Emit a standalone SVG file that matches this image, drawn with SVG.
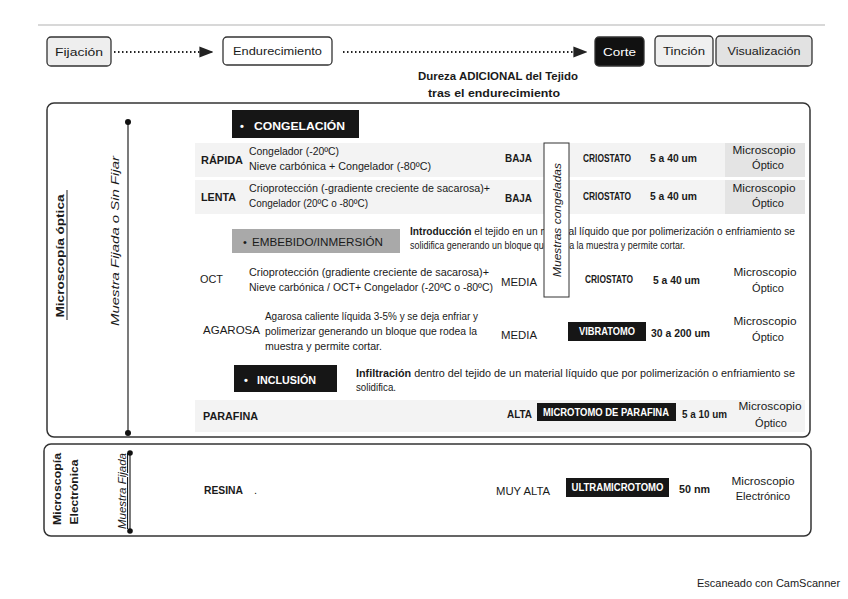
<svg xmlns="http://www.w3.org/2000/svg" width="848" height="599" viewBox="0 0 848 599">
<defs>
<style>
.t{font-family:"Liberation Sans",Arial,sans-serif;font-size:11px;fill:#1a1a1a}
.b{font-weight:bold}
.s{font-size:10px}
.i{font-style:italic}
.c{text-anchor:middle}
.w{fill:#ffffff}
.step{stroke:#333;stroke-width:1.3}
.frame{fill:#ffffff;stroke:#333;stroke-width:1.5}
.blk{fill:#161616}
.band{fill:#f3f3f3}
.band2{fill:#e4e4e4}
.dot{fill:none;stroke:#222;stroke-width:2;stroke-dasharray:1.5 2.5}
</style>
<marker id="ah" viewBox="0 0 10 10" refX="9" refY="5" markerWidth="7" markerHeight="7" orient="auto">
<path d="M0,1 L10,5 L0,9 Z" fill="#222"/>
</marker>
</defs>
<rect width="848" height="599" fill="#ffffff"/>
<line x1="38" y1="25" x2="825" y2="25" stroke="#d8d8d8" stroke-width="2"/>

<!-- process steps -->
<g id="fijacion"><rect x="47" y="37" width="64" height="29" rx="4" fill="#eeeeee" class="step"/><text x="79" y="56" class="t c" font-size="13" textLength="48" lengthAdjust="spacingAndGlyphs">Fijación</text></g>
<g id="endurecimiento"><rect x="223" y="37" width="109" height="28" rx="4" fill="#ffffff" class="step"/><text x="277.5" y="55" class="t c" font-size="13" textLength="89" lengthAdjust="spacingAndGlyphs">Endurecimiento</text></g>
<g id="corte"><rect x="595" y="37" width="49" height="29" rx="4" fill="#111" class="step"/><text x="619.5" y="56" class="t c w" font-size="13" textLength="33" lengthAdjust="spacingAndGlyphs">Corte</text></g>
<g id="tincion"><rect x="655" y="36" width="58" height="30" rx="4" fill="#f0f0f0" class="step"/><text x="684" y="55" class="t c" font-size="13" textLength="42" lengthAdjust="spacingAndGlyphs">Tinción</text></g>
<g id="visualizacion"><rect x="716" y="36" width="96" height="30" rx="4" fill="#e2e2e2" class="step"/><text x="764" y="55" class="t c" font-size="13" textLength="73" lengthAdjust="spacingAndGlyphs">Visualización</text></g>
<g id="connectors">
<line x1="114" y1="52" x2="212" y2="52" class="dot" marker-end="url(#ah)"/>
<line x1="343" y1="52" x2="586" y2="52" class="dot" marker-end="url(#ah)"/>
</g>
<g id="dureza">
<text x="498" y="80" class="t c b" font-size="13" textLength="160" lengthAdjust="spacingAndGlyphs">Dureza ADICIONAL del Tejido</text>
<text x="494" y="97" class="t c b" font-size="13" textLength="132" lengthAdjust="spacingAndGlyphs">tras el endurecimiento</text>
</g>

<!-- Microscopía óptica panel -->
<g id="optica">
<rect x="47" y="103" width="763" height="334" rx="7" class="frame"/>
<text transform="translate(64,256) rotate(-90)" class="t c b" font-size="15" textLength="123" lengthAdjust="spacingAndGlyphs">Microscopía óptica</text>
<line x1="67" y1="190" x2="67" y2="320" stroke="#222" stroke-width="1"/>
<text transform="translate(119,241) rotate(-90)" class="t c i" font-size="16" textLength="170" lengthAdjust="spacingAndGlyphs">Muestra Fijada o Sin Fijar</text>
<line x1="128" y1="122" x2="128" y2="433" stroke="#222" stroke-width="1.2"/>
<circle cx="128" cy="122" r="3" fill="#111"/><circle cx="128" cy="433" r="3" fill="#111"/>
</g>

<g id="congelacion">
<rect x="232" y="110" width="127" height="28" class="blk"/>
<text x="240" y="130" class="t b w" font-size="13">•</text>
<text x="254" y="130" class="t b w" font-size="13" textLength="91" lengthAdjust="spacingAndGlyphs">CONGELACIÓN</text>
</g>

<g id="rapida">
<rect x="195" y="143" width="610" height="34" class="band"/>
<rect x="725" y="143" width="80" height="34" class="band2"/>
<text x="201" y="164" class="t b" font-size="12" textLength="42" lengthAdjust="spacingAndGlyphs">RÁPIDA</text>
<text x="249" y="155" class="t" textLength="90" lengthAdjust="spacingAndGlyphs">Congelador (-20ºC)</text>
<text x="249" y="170" class="t" textLength="182" lengthAdjust="spacingAndGlyphs">Nieve carbónica + Congelador (-80ºC)</text>
<text x="505" y="162" class="t b" textLength="27" lengthAdjust="spacingAndGlyphs">BAJA</text>
<text x="583" y="162" class="t b s" textLength="48" lengthAdjust="spacingAndGlyphs">CRIOSTATO</text>
<text x="650" y="162" class="t b" textLength="47" lengthAdjust="spacingAndGlyphs">5 a 40 um</text>
<text x="764" y="154" class="t c" textLength="63" lengthAdjust="spacingAndGlyphs">Microscopio</text>
<text x="768" y="169" class="t c">Óptico</text>
</g>

<g id="lenta">
<rect x="195" y="180" width="610" height="34" class="band"/>
<rect x="725" y="180" width="80" height="34" class="band2"/>
<text x="201" y="201" class="t b" font-size="12" textLength="35" lengthAdjust="spacingAndGlyphs">LENTA</text>
<text x="249" y="192" class="t" textLength="241" lengthAdjust="spacingAndGlyphs">Crioprotección (-gradiente creciente de sacarosa)+</text>
<text x="249" y="207" class="t" textLength="119" lengthAdjust="spacingAndGlyphs">Congelador (20ºC o -80ºC)</text>
<text x="505" y="202" class="t b" textLength="27" lengthAdjust="spacingAndGlyphs">BAJA</text>
<text x="583" y="200" class="t b s" textLength="48" lengthAdjust="spacingAndGlyphs">CRIOSTATO</text>
<text x="650" y="200" class="t b" textLength="47" lengthAdjust="spacingAndGlyphs">5 a 40 um</text>
<text x="764" y="192" class="t c" textLength="63" lengthAdjust="spacingAndGlyphs">Microscopio</text>
<text x="768" y="207" class="t c">Óptico</text>
</g>

<g id="embebido">
<rect x="232" y="229" width="168" height="24" fill="#a9a9a9"/>
<text x="243" y="246" class="t" font-size="12" fill="#e6e6e6">•</text>
<text x="252" y="246" class="t" font-size="12" fill="#e6e6e6" textLength="131" lengthAdjust="spacingAndGlyphs">EMBEBIDO/INMERSIÓN</text>
<text x="410" y="235" class="t s" textLength="385" lengthAdjust="spacingAndGlyphs"><tspan class="b">Introducción</tspan> el tejido en un material líquido que por polimerización o enfriamiento se</text>
<text x="410" y="249" class="t s" textLength="275" lengthAdjust="spacingAndGlyphs">solidifica generando un bloque que rodea la muestra y permite cortar.</text>
</g>

<g id="oct">
<text x="200" y="283" class="t" font-size="12" textLength="23" lengthAdjust="spacingAndGlyphs">OCT</text>
<text x="249" y="276" class="t" textLength="240" lengthAdjust="spacingAndGlyphs">Crioprotección (gradiente creciente de sacarosa)+</text>
<text x="249" y="291" class="t" textLength="244" lengthAdjust="spacingAndGlyphs">Nieve carbónica / OCT+ Congelador (-20ºC o -80ºC)</text>
<text x="501" y="286" class="t" font-size="12" textLength="36" lengthAdjust="spacingAndGlyphs">MEDIA</text>
<text x="585" y="283" class="t b s" textLength="48" lengthAdjust="spacingAndGlyphs">CRIOSTATO</text>
<text x="653" y="284" class="t b" textLength="47" lengthAdjust="spacingAndGlyphs">5 a 40 um</text>
<text x="765" y="276" class="t c" textLength="63" lengthAdjust="spacingAndGlyphs">Microscopio</text>
<text x="768" y="292" class="t c">Óptico</text>
</g>

<g id="agarosa">
<text x="203" y="334" class="t" font-size="12" textLength="57" lengthAdjust="spacingAndGlyphs">AGAROSA</text>
<text x="265" y="320" class="t" textLength="213" lengthAdjust="spacingAndGlyphs">Agarosa caliente líquida 3-5% y se deja enfriar y</text>
<text x="265" y="335" class="t" textLength="212" lengthAdjust="spacingAndGlyphs">polimerizar generando un bloque que rodea la</text>
<text x="265" y="350" class="t" textLength="117" lengthAdjust="spacingAndGlyphs">muestra y permite cortar.</text>
<text x="501" y="339" class="t" font-size="12" textLength="36" lengthAdjust="spacingAndGlyphs">MEDIA</text>
<rect x="568" y="322" width="78" height="19" class="blk"/>
<text x="607" y="335" class="t b c w s" textLength="56" lengthAdjust="spacingAndGlyphs">VIBRATOMO</text>
<text x="651" y="337" class="t b" textLength="59" lengthAdjust="spacingAndGlyphs">30 a 200 um</text>
<text x="765" y="325" class="t c" textLength="63" lengthAdjust="spacingAndGlyphs">Microscopio</text>
<text x="768" y="341" class="t c">Óptico</text>
</g>

<g id="congeladas">
<rect x="544" y="143" width="25" height="154" fill="#ffffff" stroke="#333" stroke-width="1"/>
<text transform="translate(561,220) rotate(-90)" class="t c i" textLength="114" lengthAdjust="spacingAndGlyphs">Muestras congeladas</text>
</g>

<g id="inclusion">
<rect x="234" y="365" width="103" height="27" class="blk"/>
<text x="244" y="384" class="t b w" font-size="13">•</text>
<text x="257" y="384" class="t b w" font-size="13" textLength="59" lengthAdjust="spacingAndGlyphs">INCLUSIÓN</text>
<text x="356" y="377" class="t s" textLength="439" lengthAdjust="spacingAndGlyphs"><tspan class="b">Infiltración</tspan> dentro del tejido de un material líquido que por polimerización o enfriamiento se</text>
<text x="356" y="391" class="t s" textLength="40" lengthAdjust="spacingAndGlyphs">solidifica.</text>
</g>

<g id="parafina">
<rect x="195" y="400" width="610" height="32" class="band"/>
<text x="203" y="420" class="t b" textLength="55" lengthAdjust="spacingAndGlyphs">PARAFINA</text>
<text x="507" y="418" class="t b" textLength="25" lengthAdjust="spacingAndGlyphs">ALTA</text>
<rect x="537" y="403" width="139" height="18" class="blk"/>
<text x="606" y="416" class="t b c w" font-size="9" textLength="126" lengthAdjust="spacingAndGlyphs">MICROTOMO DE PARAFINA</text>
<text x="682" y="418" class="t b" font-size="10" textLength="45" lengthAdjust="spacingAndGlyphs">5 a 10 um</text>
<text x="770" y="410" class="t c" textLength="63" lengthAdjust="spacingAndGlyphs">Microscopio</text>
<text x="771" y="427" class="t c">Óptico</text>
</g>

<!-- Microscopía electrónica panel -->
<g id="electronica">
<rect x="44" y="444" width="767" height="92" rx="7" class="frame"/>
<text transform="translate(61,489) rotate(-90)" class="t c b" font-size="15" textLength="72" lengthAdjust="spacingAndGlyphs">Microscopía</text>
<text transform="translate(78,492) rotate(-90)" class="t c b" font-size="15" textLength="65" lengthAdjust="spacingAndGlyphs">Electrónica</text>
<text transform="translate(126,491) rotate(-90)" class="t c i" font-size="13" text-decoration="underline" textLength="76" lengthAdjust="spacingAndGlyphs">Muestra Fijada</text>
<line x1="130" y1="453" x2="130" y2="531" stroke="#222" stroke-width="1.2"/>
<circle cx="130" cy="453" r="2.8" fill="#111"/><circle cx="130" cy="531" r="2.8" fill="#111"/>
</g>

<g id="resina">
<text x="204" y="494" class="t b" textLength="39" lengthAdjust="spacingAndGlyphs">RESINA</text>
<text x="254" y="494" class="t">.</text>
<text x="496" y="495" class="t" font-size="11.5" textLength="54" lengthAdjust="spacingAndGlyphs">MUY ALTA</text>
<rect x="566" y="478" width="103" height="19" class="blk"/>
<text x="617.5" y="491" class="t b c w s" textLength="92" lengthAdjust="spacingAndGlyphs">ULTRAMICROTOMO</text>
<text x="679" y="493" class="t b" textLength="31" lengthAdjust="spacingAndGlyphs">50 nm</text>
<text x="763" y="485" class="t c" textLength="63" lengthAdjust="spacingAndGlyphs">Microscopio</text>
<text x="763" y="500" class="t c">Electrónico</text>
</g>

<text x="697" y="587" class="t" font-size="10.5" fill="#333">Escaneado con CamScanner</text>
</svg>
